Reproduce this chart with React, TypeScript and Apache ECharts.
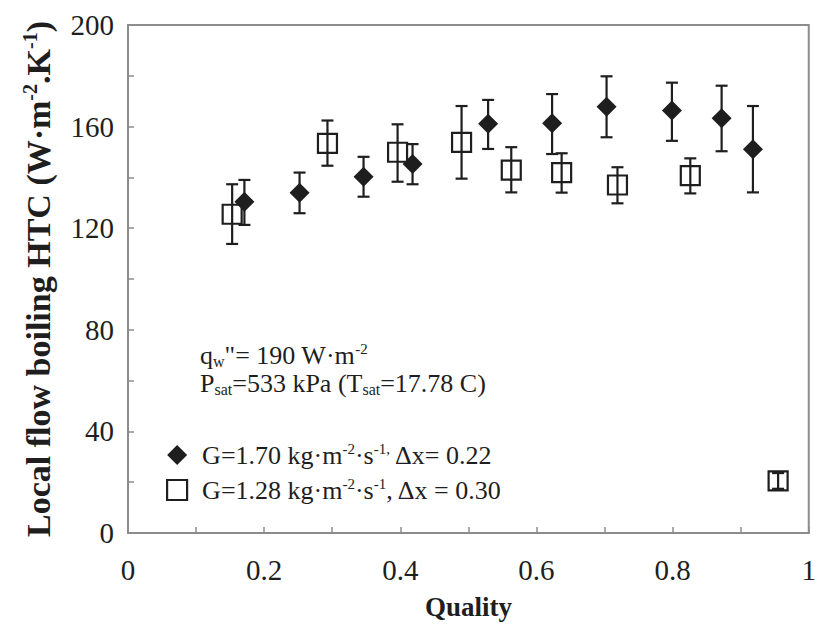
import React, { useEffect, useRef } from 'react';
import * as echarts from 'echarts';

// ---------- data ----------
const seriesNames = ['G=1.70', 'G=1.28'];
const legendLabels = [
  'G=1.70 kg·m{sup|-2}·s{sup|-1,} Δx= 0.22',
  'G=1.28 kg·m{sup|-2}·s{sup|-1}, Δx = 0.30',
];

// G = 1.70 (filled diamonds)
const xG170 = [0.171, 0.252, 0.346, 0.418, 0.529, 0.623, 0.703, 0.799, 0.872, 0.918];
const yG170 = [130.4, 134.0, 140.3, 145.3, 161.1, 161.3, 167.8, 166.3, 163.3, 151.1];
const loG170 = [121.3, 125.9, 132.4, 137.3, 151.2, 149.2, 155.8, 154.4, 150.3, 134.1];
const hiG170 = [139.0, 141.9, 148.1, 153.1, 170.5, 172.8, 179.8, 177.3, 176.1, 168.1];

// G = 1.28 (open squares)
const xG128 = [0.153, 0.293, 0.396, 0.490, 0.563, 0.637, 0.719, 0.826];
const yG128 = [125.5, 153.4, 149.9, 153.8, 142.9, 141.9, 137.0, 140.7];
const loG128 = [113.8, 144.6, 138.3, 139.5, 134.1, 134.0, 129.8, 133.7];
const hiG128 = [137.3, 162.4, 160.9, 168.1, 151.9, 149.5, 144.0, 147.5];

// single reference marker at the bottom right
const xRef = [0.955];
const yRef = [20.5];
const loRef = [17.4];
const hiRef = [23.6];

const yTicks = { min: 0, max: 200, interval: 40 };
const xTicks = { min: 0, max: 1, interval: 0.2 };

const FONT = '"Liberation Serif", "Times New Roman", serif';
const INK = '#1e1e1e';
const AXIS = '#8c8c8c';

function errorSeries(name: string, xs: number[], lows: number[], highs: number[], cap: number) {
  return {
    name: name + '-err',
    type: 'custom',
    silent: true,
    z: 3,
    data: xs.map((x, i) => [x, lows[i], highs[i]]),
    encode: { x: 0, y: [1, 2] },
    renderItem: (params: any, api: any) => {
      const lo = api.coord([api.value(0), api.value(1)]);
      const hi = api.coord([api.value(0), api.value(2)]);
      const style = { stroke: INK, lineWidth: 2.2, fill: 'none' };
      return {
        type: 'group',
        children: [
          { type: 'line', shape: { x1: lo[0], y1: lo[1], x2: hi[0], y2: hi[1] }, style },
          { type: 'line', shape: { x1: lo[0] - cap, y1: lo[1], x2: lo[0] + cap, y2: lo[1] }, style },
          { type: 'line', shape: { x1: hi[0] - cap, y1: hi[1], x2: hi[0] + cap, y2: hi[1] }, style },
        ],
      };
    },
  };
}

const supStyle = (size: number, bold = false) => ({
  fontSize: size,
  fontFamily: FONT,
  fontWeight: bold ? 'bold' : 'normal',
  color: INK,
  fill: INK,
  verticalAlign: 'top',
  lineHeight: size,
});
const subStyle = (size: number) => ({
  fontSize: size,
  fontFamily: FONT,
  color: INK,
  fill: INK,
  verticalAlign: 'bottom',
  lineHeight: size,
});

export default function App() {
  const ref = useRef<HTMLDivElement>(null);

  useEffect(() => {
    if (!ref.current) return;
    const chart = echarts.init(ref.current, undefined, { renderer: 'svg' });
    const option: any = {
      animation: false,
      backgroundColor: '#ffffff',
      grid: {
        left: 128,
        right: 4,
        top: 25,
        bottom: 99,
        show: true,
        borderColor: AXIS,
        borderWidth: 2,
        backgroundColor: 'transparent',
      },
      xAxis: {
        type: 'value',
        min: xTicks.min,
        max: xTicks.max,
        interval: xTicks.interval,
        name: 'Quality',
        nameLocation: 'middle',
        nameGap: 60,
        nameTextStyle: { fontFamily: FONT, fontWeight: 'bold', fontSize: 27, color: INK },
        axisLine: { show: true, lineStyle: { color: AXIS, width: 2 } },
        axisTick: { show: true, inside: true, length: 6, lineStyle: { color: AXIS, width: 1.5 } },
        minorTick: { show: true, splitNumber: 2, length: 6, lineStyle: { color: AXIS, width: 1.5 } },
        splitLine: { show: false },
        minorSplitLine: { show: false },
        axisLabel: { fontFamily: FONT, fontSize: 29, color: INK, margin: 22 },
      },
      yAxis: {
        type: 'value',
        min: yTicks.min,
        max: yTicks.max,
        interval: yTicks.interval,
        name: 'Local flow boiling HTC (W·m{sup|-2}.K{sup|-1})',
        nameLocation: 'middle',
        nameGap: 72,
        nameTextStyle: {
          fontFamily: FONT,
          fontWeight: 'bold',
          fontSize: 34,
          color: INK,
          lineHeight: 36,
          rich: { sup: supStyle(20, true) },
        },
        axisLine: { show: true, lineStyle: { color: AXIS, width: 2 } },
        axisTick: { show: true, inside: true, length: 6, lineStyle: { color: AXIS, width: 1.5 } },
        minorTick: { show: true, splitNumber: 2, length: 6, lineStyle: { color: AXIS, width: 1.5 } },
        splitLine: { show: false },
        minorSplitLine: { show: false },
        axisLabel: { fontFamily: FONT, fontSize: 29, color: INK, margin: 14 },
      },
      legend: {
        orient: 'vertical',
        left: 161,
        top: 436,
        itemWidth: 20,
        itemHeight: 20,
        itemGap: 7,
        selectedMode: false,
        data: [
          { name: seriesNames[0], icon: 'diamond', itemStyle: { color: INK } },
          {
            name: seriesNames[1],
            icon: 'rect',
            itemStyle: { color: 'rgba(0,0,0,0)', borderColor: INK, borderWidth: 2.2 },
          },
        ],
        formatter: (name: string) => legendLabels[seriesNames.indexOf(name)],
        textStyle: {
          fontFamily: FONT,
          fontSize: 26,
          color: INK,
          lineHeight: 28,
          padding: [0, 0, 0, 10],
          rich: { sup: supStyle(15) },
        },
      },
      graphic: [
        {
          type: 'text',
          x: 200,
          y: 341,
          style: {
            text: 'q{sub|w}"= 190 W·m{sup|-2}\nP{sub|sat}=533 kPa (T{sub|sat}=17.78 C)',
            fontFamily: FONT,
            fontSize: 26,
            fill: INK,
            lineHeight: 28,
            verticalAlign: 'top',
            align: 'left',
            rich: { sup: supStyle(15), sub: subStyle(16) },
          },
        },
      ],
      series: [
        errorSeries(seriesNames[0], xG170, loG170, hiG170, 6),
        errorSeries(seriesNames[1], xG128, loG128, hiG128, 6),
        errorSeries('ref', xRef, loRef, hiRef, 6),
        {
          name: seriesNames[0],
          type: 'scatter',
          symbol: 'diamond',
          symbolSize: 20,
          z: 5,
          itemStyle: { color: INK, opacity: 1 },
          data: xG170.map((x, i) => [x, yG170[i]]),
        },
        {
          name: seriesNames[1],
          type: 'scatter',
          symbol: 'rect',
          symbolSize: 19,
          z: 4,
          itemStyle: { color: 'rgba(0,0,0,0)', borderColor: INK, borderWidth: 2.2, opacity: 1 },
          data: xG128.map((x, i) => [x, yG128[i]]),
        },
        {
          name: 'ref',
          type: 'scatter',
          symbol: 'rect',
          symbolSize: 19,
          z: 4,
          itemStyle: { color: 'rgba(0,0,0,0)', borderColor: INK, borderWidth: 2.2, opacity: 1 },
          data: xRef.map((x, i) => [x, yRef[i]]),
        },
      ],
    };
    chart.setOption(option);
    return () => chart.dispose();
  }, []);

  return (
    <div
      ref={ref}
      style={{ position: 'fixed', left: 0, top: 0, width: 819, height: 632, background: '#fff' }}
    />
  );
}
